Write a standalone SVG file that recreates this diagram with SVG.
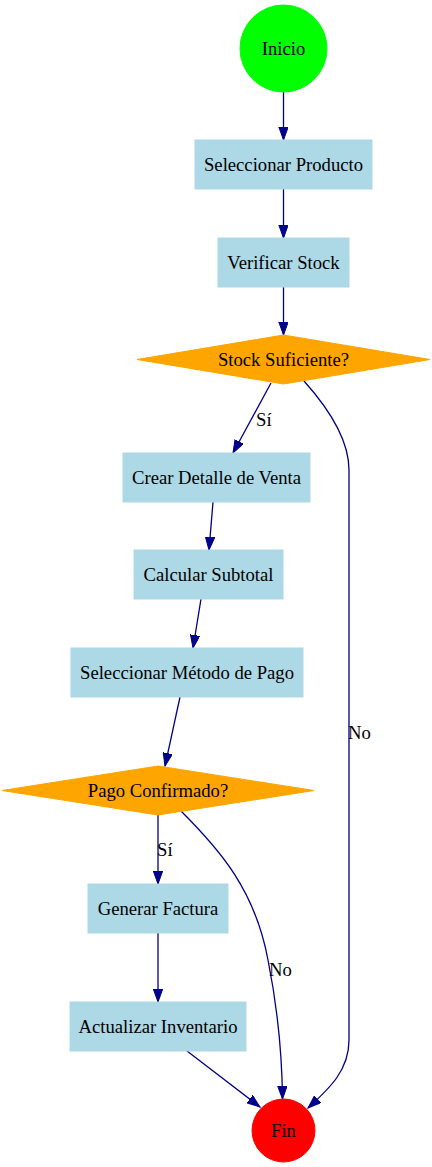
<svg xmlns="http://www.w3.org/2000/svg" width="432" height="1167" viewBox="0 0 432 1167">
<defs>
<style>
text{font-family:'Liberation Serif','Times New Roman',serif;font-size:18.67px;fill:#000}
.n text{text-anchor:middle}
.box{fill:#add8e6;stroke:#add8e6}
.dia{fill:#ffa500;stroke:#ffa500}
.e{fill:none;stroke:#00008b;stroke-width:1.3;marker-end:url(#ah)}
</style>
<marker id="ah" markerUnits="userSpaceOnUse" markerWidth="14" markerHeight="10" refX="13" refY="4.7" orient="auto">
<path d="M0,0 L13,4.7 L0,9.4 z" fill="#00008b" stroke="#00008b"/>
</marker>
</defs>
<rect width="432" height="1167" fill="#fff"/>
<g id="edges">
<path class="e" d="M283.5,92 L283.5,140"/>
<path class="e" d="M283.5,189 L283.5,238"/>
<path class="e" d="M283.5,287 L283.5,335"/>
<path class="e" d="M271,383 L233,453"/>
<path class="e" d="M304,381 C330,410 349,440 349,470 L349,1040 C349,1070 330,1088 308,1108"/>
<path class="e" d="M213,502 L209,550"/>
<path class="e" d="M201,599 L193,648"/>
<path class="e" d="M180,697 L165,766"/>
<path class="e" d="M158,815 L158,884"/>
<path class="e" d="M181,811 C220,850 255,890 268,960 C277,1005 282,1050 282.5,1099"/>
<path class="e" d="M158,933 L158,1002"/>
<path class="e" d="M187,1051 L260,1107"/>
<text x="256" y="426">Sí</text>
<text x="348" y="739">No</text>
<text x="157" y="856">Sí</text>
<text x="269" y="976">No</text>
</g>
<g id="inicio" class="n"><circle cx="283.5" cy="48.5" r="43.5" fill="#00ff00" stroke="#00ff00"/><text x="283.5" y="55">Inicio</text></g>
<g id="seleccionar_producto" class="n"><rect class="box" x="195" y="140" width="177" height="49"/><text x="283.5" y="171">Seleccionar Producto</text></g>
<g id="verificar_stock" class="n"><rect class="box" x="218" y="238" width="131" height="49"/><text x="283.5" y="269">Verificar Stock</text></g>
<g id="stock_suficiente" class="n"><polygon class="dia" points="283.5,335 430,359.5 283.5,384 137,359.5"/><text x="283.5" y="366">Stock Suficiente?</text></g>
<g id="crear_detalle" class="n"><rect class="box" x="123" y="453" width="187" height="49"/><text x="216.5" y="484">Crear Detalle de Venta</text></g>
<g id="calcular_subtotal" class="n"><rect class="box" x="134" y="550" width="149" height="49"/><text x="208.5" y="581">Calcular Subtotal</text></g>
<g id="seleccionar_metodo" class="n"><rect class="box" x="71" y="648" width="232" height="49"/><text x="187" y="679">Seleccionar Método de Pago</text></g>
<g id="pago_confirmado" class="n"><polygon class="dia" points="158,766 314,790.5 158,815 2,790.5"/><text x="158" y="797">Pago Confirmado?</text></g>
<g id="generar_factura" class="n"><rect class="box" x="88" y="884" width="140" height="49"/><text x="158" y="915">Generar Factura</text></g>
<g id="actualizar_inventario" class="n"><rect class="box" x="70" y="1002" width="176" height="49"/><text x="158" y="1033">Actualizar Inventario</text></g>
<g id="fin" class="n"><circle cx="283.5" cy="1130.5" r="31.5" fill="#ff0000" stroke="#ff0000"/><text x="283.5" y="1137">Fin</text></g>
</svg>
